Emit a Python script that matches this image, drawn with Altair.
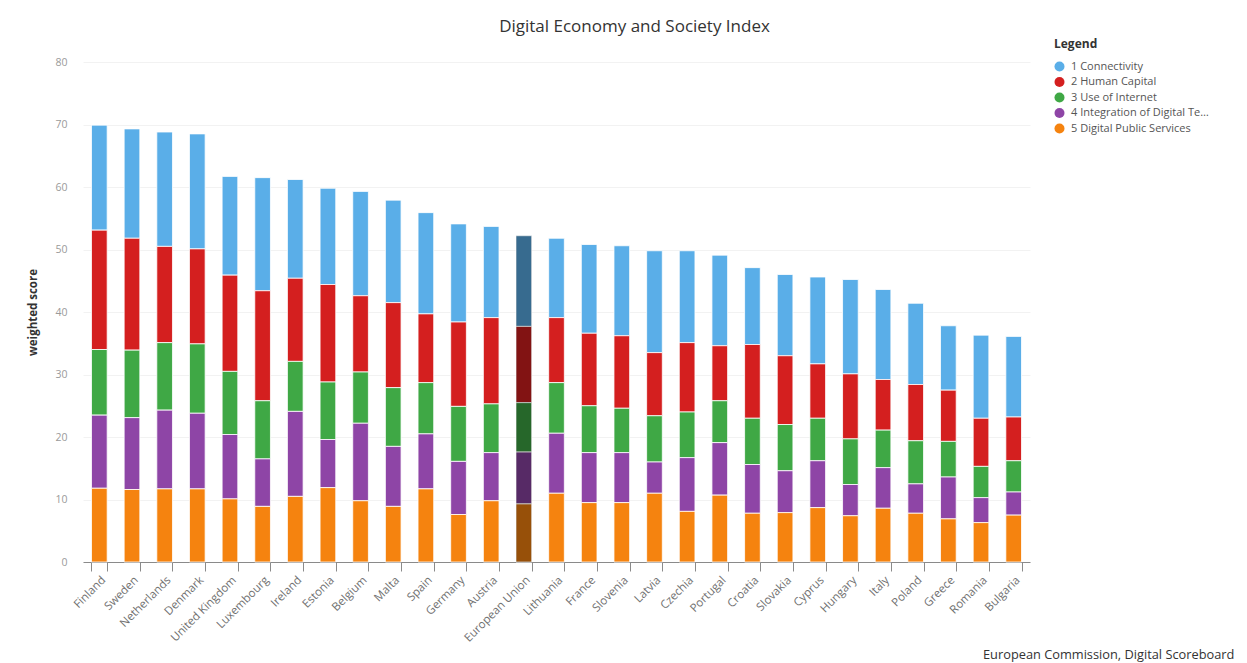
import altair as alt
import pandas as pd

countries = ["Finland", "Sweden", "Netherlands", "Denmark", "United Kingdom", "Luxembourg",
             "Ireland", "Estonia", "Belgium", "Malta", "Spain", "Germany", "Austria",
             "European Union", "Lithuania", "France", "Slovenia", "Latvia", "Czechia",
             "Portugal", "Croatia", "Slovakia", "Cyprus", "Hungary", "Italy", "Poland",
             "Greece", "Romania", "Bulgaria"]

dimensions = ["1 Connectivity", "2 Human Capital", "3 Use of Internet",
              "4 Integration of Digital Technology", "5 Digital Public Services"]

connectivity = [16.8, 17.5, 18.3, 18.4, 15.8, 18.1, 15.8, 15.4, 16.7, 16.4, 16.2, 15.7, 14.6,
                14.5, 12.7, 14.2, 14.4, 16.3, 14.7, 14.5, 12.3, 13.0, 13.9, 15.1, 14.4, 13.0,
                10.3, 13.3, 12.9]
human_capital = [19.1, 17.9, 15.4, 15.2, 15.4, 17.6, 13.3, 15.6, 12.2, 13.6, 11.0, 13.5, 13.8,
                 12.2, 10.4, 11.6, 11.6, 10.1, 11.1, 8.8, 11.8, 11.0, 8.7, 10.4, 8.1, 9.0,
                 8.2, 7.7, 7.0]
use_of_internet = [10.5, 10.8, 10.8, 11.1, 10.1, 9.3, 8.0, 9.2, 8.2, 9.4, 8.2, 8.8, 7.8,
                   7.9, 8.1, 7.5, 7.1, 7.4, 7.3, 6.7, 7.4, 7.4, 6.8, 7.3, 6.0, 6.9,
                   5.7, 5.0, 5.0]
integration = [11.7, 11.5, 12.6, 12.1, 10.3, 7.6, 13.6, 7.7, 12.4, 9.6, 8.8, 8.5, 7.7,
               8.3, 9.6, 8.0, 8.0, 5.0, 8.6, 8.4, 7.8, 6.7, 7.5, 5.0, 6.5, 4.7,
               6.7, 4.0, 3.7]
public_services = [11.8, 11.6, 11.7, 11.7, 10.1, 8.9, 10.5, 11.9, 9.8, 8.9, 11.7, 7.6, 9.8,
                   9.3, 11.0, 9.5, 9.5, 11.0, 8.1, 10.7, 7.8, 7.9, 8.7, 7.4, 8.6, 7.8,
                   6.9, 6.3, 7.5]

colors = ["#5aaee8", "#d41f1f", "#3fa845", "#8e45a6", "#f5830f"]

y_ticks = [0, 10, 20, 30, 40, 50, 60, 70, 80]
credit = ["European Commission, Digital Scoreboard"]

series = [connectivity, human_capital, use_of_internet, integration, public_services]
rows = []
for d_i, (dim, vals) in enumerate(zip(dimensions, series)):
    for c, v in zip(countries, vals):
        rows.append({"country": c, "dimension": dim, "value": v, "order": 4 - d_i})
df = pd.DataFrame(rows)

FONT = "Open Sans"
P_IN = 0.52

x_enc = alt.X("country:N", sort=countries, title=None,
              scale=alt.Scale(paddingInner=P_IN, paddingOuter=P_IN / 2),
              axis=alt.Axis(labelAngle=-45, labelAlign="right", labelBaseline="top",
                            labelFontSize=11.5, labelColor="#707070", labelFont=FONT,
                            tickBand="extent", tickSize=9, tickColor="#8a8a8a",
                            domainColor="#8a8a8a", labelPadding=3, labelOverlap=False))
y_enc = alt.Y("value:Q", stack="zero", title="weighted score",
              scale=alt.Scale(domain=[0, 80], nice=False),
              axis=alt.Axis(values=y_ticks, labelFontSize=10.5, labelColor="#9a9a9a",
                            labelFont=FONT, titleFont=FONT, titleFontSize=11.5,
                            titleColor="#333333", titleFontWeight="bold",
                            domain=False, ticks=False, gridColor="#f2f2f2",
                            labelPadding=16, titlePadding=16))

bars = alt.Chart(df).mark_bar(stroke="white", strokeWidth=0.8).encode(
    x=x_enc,
    y=y_enc,
    color=alt.Color("dimension:N", scale=alt.Scale(domain=dimensions, range=colors),
                    legend=alt.Legend(title="Legend", orient="none", legendX=971, legendY=-23,
                                      symbolType="circle", symbolSize=100, symbolStrokeWidth=0,
                                      labelFontSize=11, labelFont=FONT, labelColor="#555555",
                                      titleFont=FONT, titleFontSize=12, titleColor="#333333",
                                      titleFontWeight="bold", labelLimit=142, rowPadding=3.5,
                                      titlePadding=10, labelOffset=6)),
    order=alt.Order("order:Q", sort="ascending"),
)

eu_overlay = alt.Chart(df).transform_filter(
    alt.datum.country == "European Union"
).mark_bar(color="black", opacity=0.38, stroke="white", strokeWidth=0.8, strokeOpacity=0.5).encode(
    x=alt.X("country:N", sort=countries),
    y=alt.Y("value:Q", stack="zero"),
    detail="dimension:N",
    order=alt.Order("order:Q", sort="ascending"),
)

credit_text = alt.Chart(pd.DataFrame({"t": credit})).mark_text(
    align="left", baseline="middle", fontSize=12.8, font=FONT, color="#333333"
).encode(text="t:N", x=alt.value(900), y=alt.value(593))

chart = alt.layer(bars, eu_overlay, credit_text).properties(
    width=947, height=500,
    title=alt.TitleParams("Digital Economy and Society Index", fontSize=17, font=FONT,
                          fontWeight="normal", color="#333333", anchor="middle",
                          dx=78, offset=3),
    autosize=alt.AutoSizeParams(type="none"),
    padding={"left": 83, "top": 62, "right": 217, "bottom": 101},
).configure_view(stroke=None)

chart.save("out.html", embed_options={"renderer": "svg", "actions": False})
